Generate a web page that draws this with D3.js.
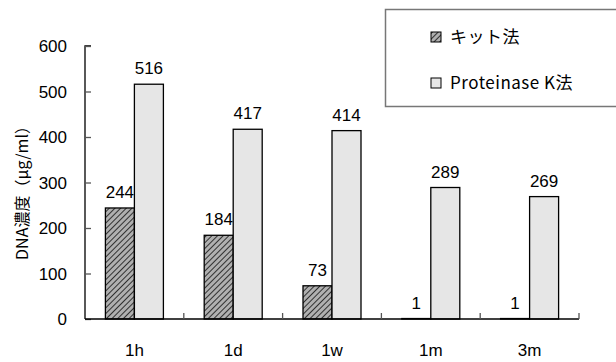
<!DOCTYPE html>
<html>
<head>
<meta charset="utf-8">
<script src="https://cdn.jsdelivr.net/npm/d3@7"></script>
<style>
  html, body { margin: 0; padding: 0; background: #fff; }
  svg { display: block; }
  text { font-family: "Liberation Sans", "Noto Sans CJK JP", sans-serif; fill: #000; }
  text.cjk { font-family: "Noto Sans CJK JP", sans-serif; }
</style>
</head>
<body>
<svg id="chart" width="616" height="362"></svg>
<script>
// Sampling times and DNA concentration (µg/ml) by extraction method
const categories = ["1h", "1d", "1w", "1m", "3m"];
const seriesNames = ["キット法", "Proteinase K法"];
const kitValues = [244, 184, 73, 1, 1];
const proteinaseValues = [516, 417, 414, 289, 269];
const yTicks = [0, 100, 200, 300, 400, 500, 600];
const yTitle = "DNA濃度（μg/ml）";

const svg = d3.select("#chart");
const plot = { left: 85, right: 579, top: 46, bottom: 319 };

// hatched fill for the kit series
const defs = svg.append("defs");
const pat = defs.append("pattern")
  .attr("id", "hatch")
  .attr("patternUnits", "userSpaceOnUse")
  .attr("width", 4).attr("height", 4)
  .attr("patternTransform", "rotate(45)");
pat.append("rect").attr("width", 4).attr("height", 4).attr("fill", "#b0b0b0");
pat.append("line").attr("x1", 0).attr("y1", 0).attr("x2", 0).attr("y2", 4)
  .attr("stroke", "#1a1a1a").attr("stroke-width", 1.7);

const x = d3.scaleBand().domain(categories).range([plot.left, plot.right]);
const y = d3.scaleLinear().domain([0, 600]).range([plot.bottom, plot.top]);
const barW = 29;

const series = [
  { name: seriesNames[0], values: kitValues, fill: "url(#hatch)", offset: -barW },
  { name: seriesNames[1], values: proteinaseValues, fill: "#e6e6e6", offset: 0 }
];

// bars and value labels
series.forEach(s => {
  svg.append("g").selectAll("rect")
    .data(s.values)
    .join("rect")
    .attr("x", (d, i) => x(categories[i]) + x.bandwidth() / 2 + s.offset)
    .attr("y", d => y(d))
    .attr("width", barW)
    .attr("height", d => y(0) - y(d))
    .attr("fill", s.fill)
    .attr("stroke", "#000")
    .attr("stroke-width", 1.3);

  svg.append("g").selectAll("text")
    .data(s.values)
    .join("text")
    .attr("x", (d, i) => x(categories[i]) + x.bandwidth() / 2 + s.offset + barW / 2)
    .attr("y", d => y(d) - 10)
    .attr("text-anchor", "middle")
    .attr("font-size", 17)
    .text(d => d);
});

// y axis (ticks point inward)
const yAxis = svg.append("g")
  .attr("transform", `translate(${plot.left},0)`)
  .call(d3.axisRight(y).tickValues(yTicks).tickSize(6).tickFormat(""));
yAxis.select(".domain").attr("d", `M6,${plot.top}H0V${plot.bottom}`).attr("stroke", "#000").attr("stroke-width", 1.3);
yAxis.selectAll(".tick line").attr("stroke", "#555").attr("stroke-width", 1.3);

svg.append("g").selectAll("text")
  .data(yTicks)
  .join("text")
  .attr("x", 67)
  .attr("y", d => y(d) + 6)
  .attr("text-anchor", "end")
  .attr("font-size", 17)
  .text(d => d);

// x axis with inward ticks at band boundaries
const bounds = categories.map(c => x(c)).concat([plot.right]);
svg.append("line")
  .attr("x1", plot.left).attr("x2", plot.right)
  .attr("y1", plot.bottom).attr("y2", plot.bottom)
  .attr("stroke", "#000").attr("stroke-width", 1.3);
svg.append("g").selectAll("line")
  .data(bounds.slice(1))
  .join("line")
  .attr("x1", d => d).attr("x2", d => d)
  .attr("y1", plot.bottom).attr("y2", plot.bottom - 6)
  .attr("stroke", "#555").attr("stroke-width", 1.3);

svg.append("g").selectAll("text")
  .data(categories)
  .join("text")
  .attr("x", d => x(d) + x.bandwidth() / 2)
  .attr("y", 356)
  .attr("text-anchor", "middle")
  .attr("font-size", 17)
  .text(d => d);

// y title
svg.append("text")
  .attr("class", "cjk")
  .attr("transform", "translate(28,189) rotate(-90)")
  .attr("text-anchor", "middle")
  .attr("font-size", 16)
  .text(yTitle);

// legend
const legend = svg.append("g");
legend.append("rect")
  .attr("x", 385.5).attr("y", 9.5)
  .attr("width", 240).attr("height", 97)
  .attr("fill", "#fff").attr("stroke", "#777").attr("stroke-width", 1.5);
series.forEach((s, i) => {
  const cy = 37 + i * 46;
  legend.append("rect")
    .attr("x", 431).attr("y", cy - 5)
    .attr("width", 10).attr("height", 10)
    .attr("fill", s.fill).attr("stroke", "#000").attr("stroke-width", 1);
  legend.append("text")
    .attr("class", "cjk")
    .attr("x", 450).attr("y", cy + 6)
    .attr("font-size", 17)
    .attr("letter-spacing", 0.5)
    .text(s.name);
});
</script>
</body>
</html>
